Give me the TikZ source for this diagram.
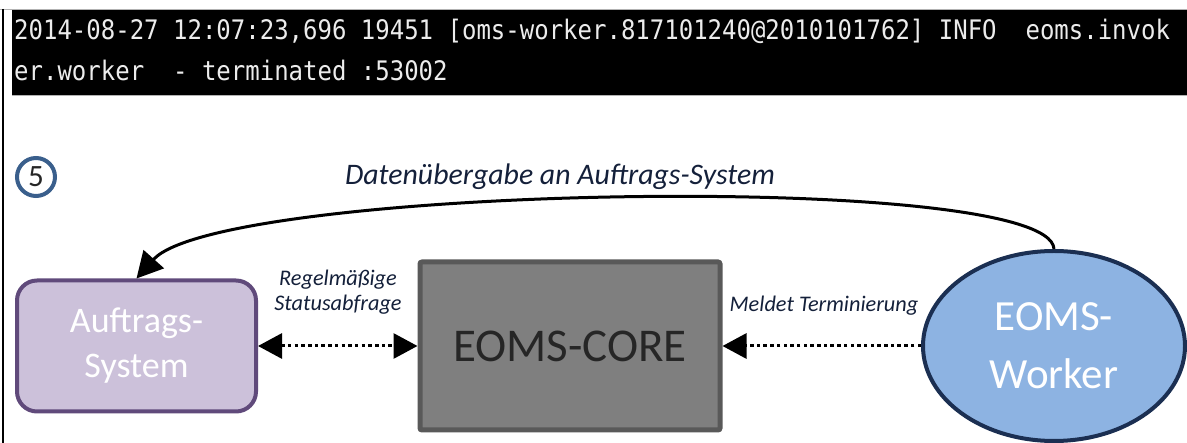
\documentclass[tikz,border=0pt]{standalone}
\usepackage{fontspec}
\setmainfont{Carlito}
\newfontfamily\logfont{DejaVu Sans Mono}
\usetikzlibrary{shapes.geometric,arrows.meta}

\definecolor{lila}{HTML}{CCC1DA}
\definecolor{lilarand}{HTML}{604A7B}
\definecolor{grau}{HTML}{7F7F7F}
\definecolor{graurand}{HTML}{595959}
\definecolor{blau}{HTML}{8DB3E2}
\definecolor{blaurand}{HTML}{1B2F52}
\definecolor{kreis}{HTML}{3A5F8C}
\definecolor{schrift}{HTML}{14203A}

\begin{document}
\begin{tikzpicture}[x=1pt,y=-1pt,
    >={Triangle[length=24pt,width=25pt]},
    box/.style={inner sep=0pt,align=center},
    logzeile/.style={anchor=base west,inner sep=0pt,text=gray!15,font=\logfont\fontsize{24}{30}\selectfont},
    pfeil/.style={line width=3pt,dash pattern=on 3.5pt off 3.2pt},
    beschr/.style={font=\fontsize{22.3}{25}\selectfont\itshape,text=schrift,align=center}]
  \useasboundingbox (0,0) rectangle (1187,443);
  % Log-Ausgabe
  \fill[black] (12,10) rectangle (1187,95);
  \draw[gray!60,line width=1pt] (0,9.5) -- (1187,9.5);
  \draw[gray!60,line width=1pt] (12,95.5) -- (1187,95.5);
  \draw[line width=2pt] (3,9) -- (3,443);
  \node[logzeile,yscale=1.12] (log1) at (14,40) {2014-08-27 12:07:23,696 19451 [oms-worker.817101240@2010101762] INFO\ \ eoms.invok};
  \node[logzeile,yscale=1.12] (log2) at (14,81) {er.worker\ \ - terminated :53002};

  % Schritt 5
  \node[circle,draw=kreis,line width=4pt,minimum size=38pt,inner sep=0pt,
    font=\fontsize{31}{31}\selectfont,text=black!85] (nummer) at (36,177) {5};
  \node[font=\fontsize{29.8}{30}\selectfont\itshape,text=schrift,anchor=base] (titel) at (560,185) {Datenübergabe an Auftrags-System};

  \node[box,rounded corners=20pt,draw=lilarand,fill=lila,line width=4pt,
    minimum width=239pt,minimum height=131pt,text=white,
    font=\fontsize{36}{45}\selectfont] (auftrag) at (136.5,346) {Auftrags-\\System};
  \node[box,rounded corners=2pt,draw=graurand,fill=grau,line width=5pt,
    minimum width=300pt,minimum height=168pt,text=black!85,
    font=\fontsize{47}{56}\selectfont] (core) at (570,346) {EOMS-CORE};
  \node[box,ellipse,draw=blaurand,fill=blau,line width=4pt,
    minimum width=262pt,minimum height=190pt,text=white,
    font=\fontsize{43}{58}\selectfont] (worker) at (1054,346) {EOMS-\\Worker};

  \draw[pfeil,<->] (auftrag.east) -- (core.west);
  \draw[pfeil,->] (worker.west) -- (core.east);
  \draw[line width=3pt,-{Triangle[length=26pt,width=27pt]}] (worker.north)
    .. controls (1050,170) and (220,185) .. (auftrag.north);

  \node[beschr] (abfrage) at (338,292) {Regelmäßige\\Statusabfrage};
  \node[beschr,anchor=base] (meldung) at (824,312) {Meldet Terminierung};
\end{tikzpicture}
\end{document}
